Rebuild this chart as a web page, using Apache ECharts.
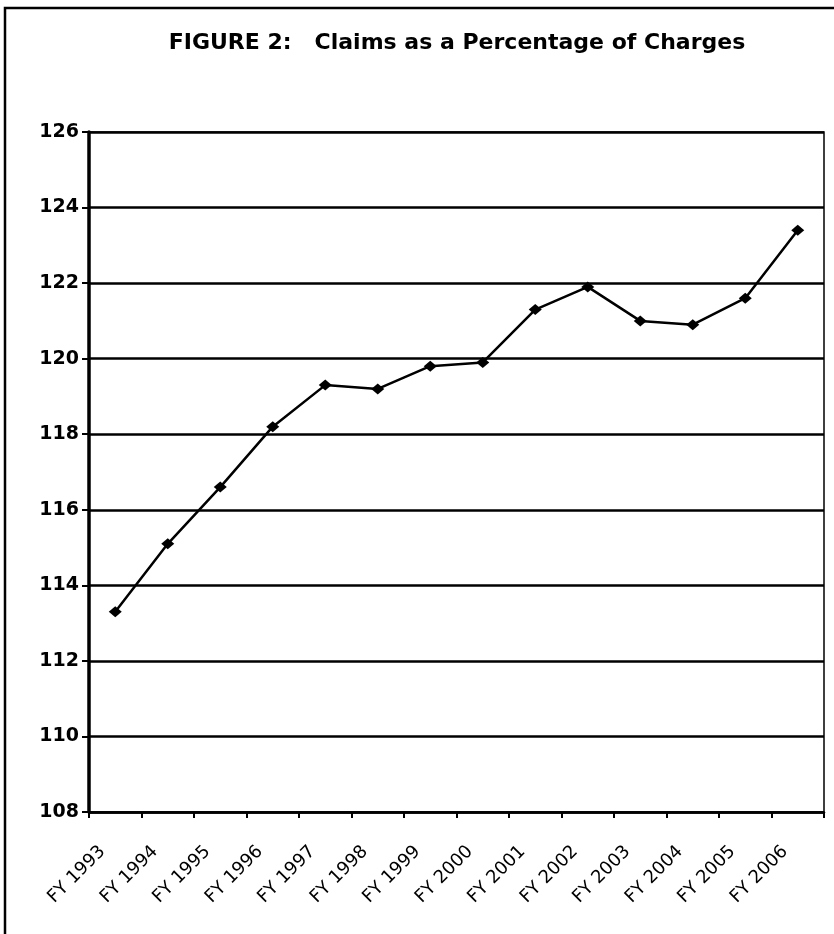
<!DOCTYPE html>
<html>
<head>
<meta charset="utf-8">
<script src="https://cdn.jsdelivr.net/npm/echarts@6/dist/echarts.min.js"></script>
<style>
  html, body { margin: 0; padding: 0; background: #fff; }
  #chart { width: 834px; height: 934px; }
</style>
</head>
<body>
<div id="chart"></div>
<script>
// fiscal years on the x axis
var years = ["FY 1993", "FY 1994", "FY 1995", "FY 1996", "FY 1997", "FY 1998", "FY 1999",
  "FY 2000", "FY 2001", "FY 2002", "FY 2003", "FY 2004", "FY 2005", "FY 2006"];
// claims as % of charges
var claimsPct = [113.3, 115.1, 116.6, 118.2, 119.3, 119.2, 119.8,
  119.9, 121.3, 121.9, 121.0, 120.9, 121.6, 123.4];
var yMin = 108, yMax = 126, yStep = 2;

// scan text is wide, DejaVu is closer than Arial
var font = "'DejaVu Sans', sans-serif";
var chart = echarts.init(document.getElementById("chart"));

chart.setOption({
  animation: false,
  backgroundColor: "#fff",
  title: {
    text: "FIGURE 2:   Claims as a Percentage of Charges",
    left: 452,
    top: 27,
    textAlign: "center",
    textStyle: { fontFamily: font, fontSize: 22, fontWeight: "bold", color: "#000" }
  },
  graphic: [
    // outer frame, only top + left show inside the picture
    {
      type: "rect",
      shape: { x: 5, y: 8, width: 900, height: 1000 },
      style: { fill: null, stroke: "#000", lineWidth: 2.5 }
    }
  ],
  grid: {
    left: 89,
    right: 10,
    top: 132,
    bottom: 122,
    show: true,
    borderColor: "#000",
    borderWidth: 1.5
  },
  xAxis: {
    type: "category",
    data: years,
    boundaryGap: true,
    axisLine: { lineStyle: { color: "#000", width: 2.5 } },
    axisTick: { show: true, length: 6, inside: false, lineStyle: { color: "#000", width: 2 } },
    axisLabel: {
      interval: 0,
      rotate: 45,
      margin: 24,
      padding: [0, 18, 0, 0],
      fontFamily: font,
      fontSize: 18,
      color: "#000"
    },
    splitLine: { show: false }
  },
  yAxis: {
    type: "value",
    min: yMin,
    max: yMax,
    interval: yStep,
    axisLine: { show: true, lineStyle: { color: "#000", width: 3.5 } },
    axisTick: { show: true, length: 7, lineStyle: { color: "#000", width: 2 } },
    axisLabel: {
      margin: 10,
      fontFamily: font,
      fontSize: 19,
      fontWeight: "bold",
      color: "#000"
    },
    splitLine: { show: true, lineStyle: { color: "#000", width: 2.5 } }
  },
  series: [
    {
      name: "Claims as a Percentage of Charges",
      type: "line",
      data: claimsPct,
      symbol: "diamond",
      symbolSize: [13, 11],
      lineStyle: { color: "#000", width: 2.5 },
      itemStyle: { color: "#000" }
    }
  ]
});
</script>
</body>
</html>
